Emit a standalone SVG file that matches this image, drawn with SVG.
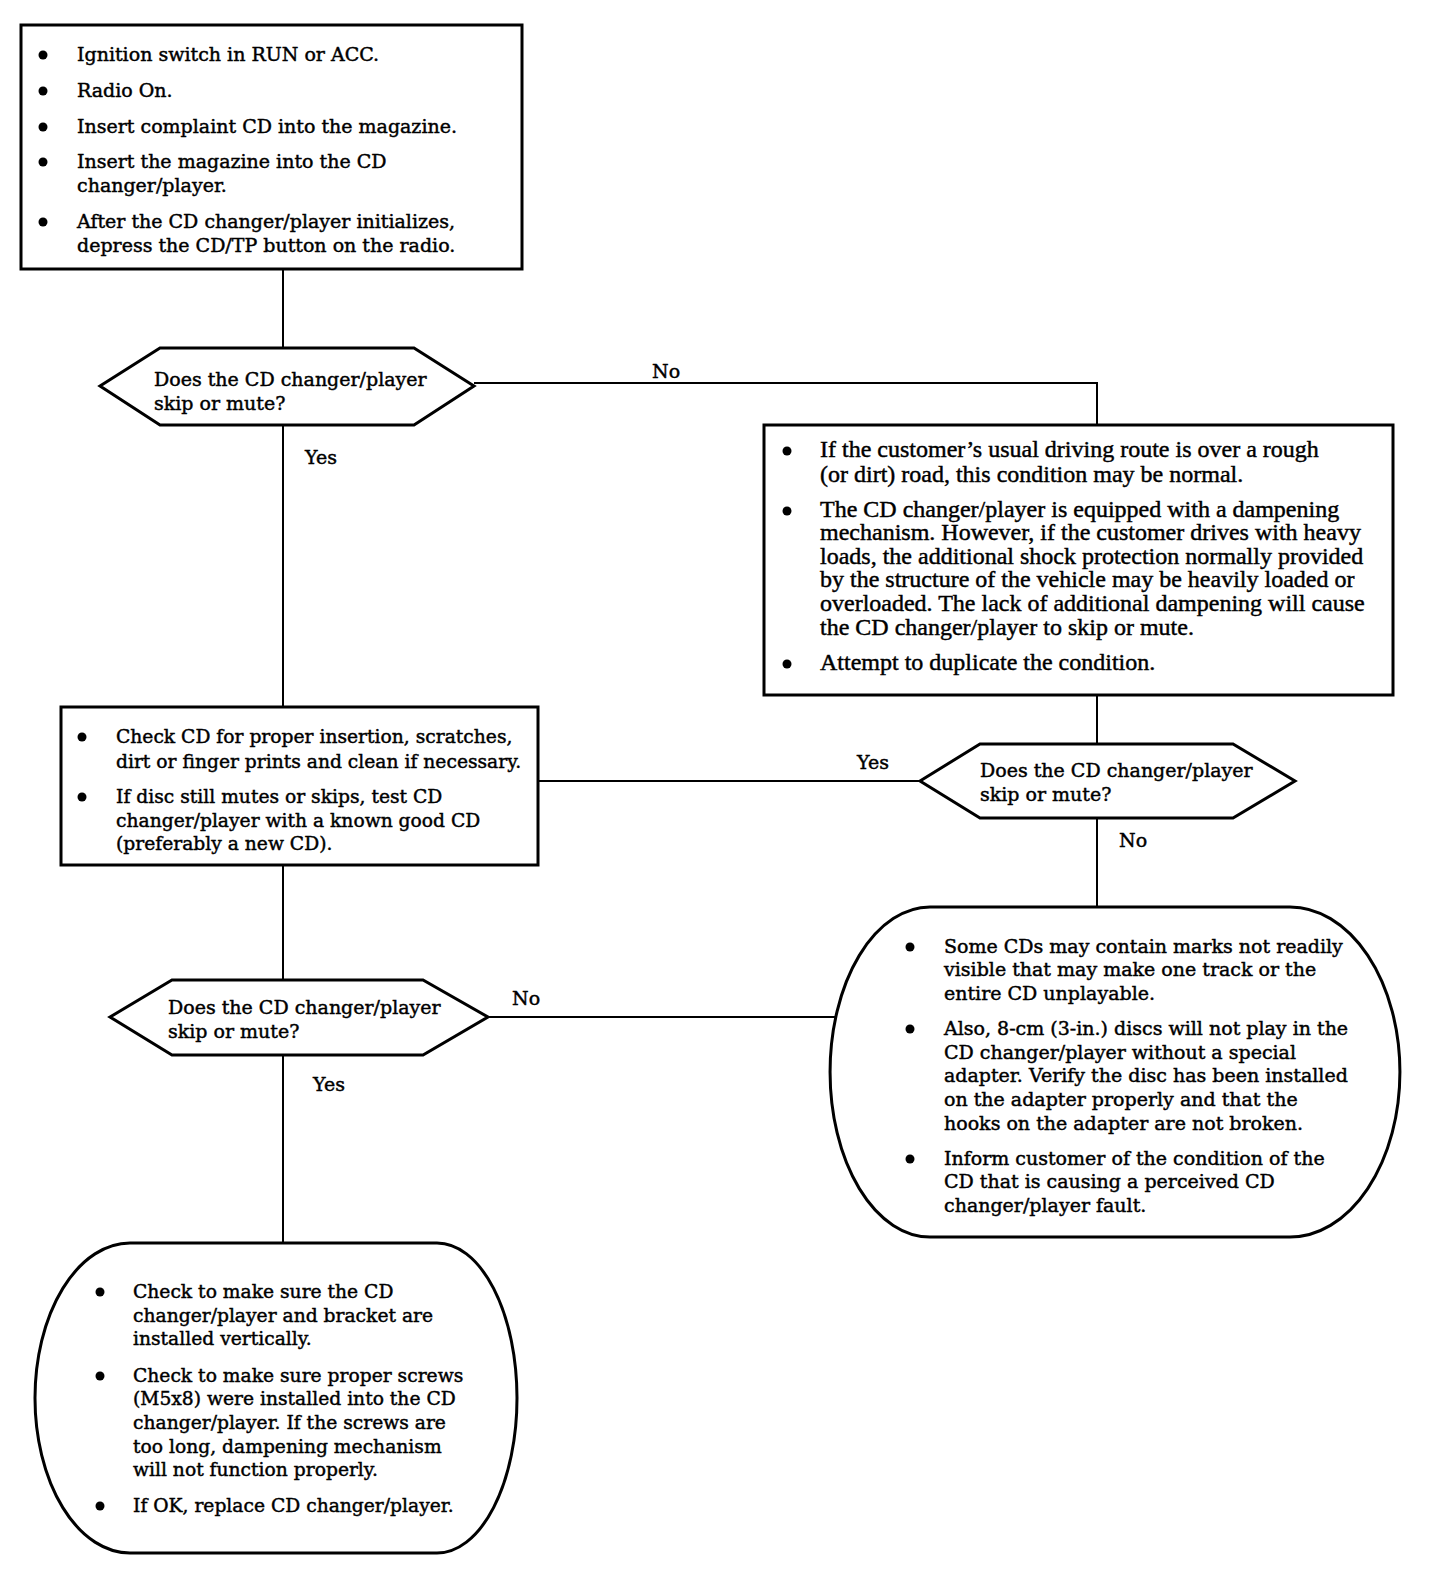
<svg xmlns="http://www.w3.org/2000/svg" width="1440" height="1580" viewBox="0 0 1440 1580">
<style>
.bg{fill:#fff}
.box{fill:#fff;stroke:#000;stroke-width:3}
.con{fill:none;stroke:#000;stroke-width:2}
.t{font-family:"DejaVu Serif","Liberation Serif",serif;font-size:19px;fill:#000;stroke:#000;stroke-width:0.45}
.s{font-size:18.7px}
.tt{font-family:"Liberation Serif","DejaVu Serif",serif;font-size:24px;fill:#000;stroke:#000;stroke-width:0.45}
.b{fill:#000}
</style>
<rect class="bg" x="0" y="0" width="1440" height="1580"/>
<g id="connectors">
<polyline class="con" points="283,269 283,348"/>
<polyline class="con" points="474,383 1097,383 1097,425"/>
<polyline class="con" points="283,425 283,707"/>
<polyline class="con" points="1097,695 1097,744"/>
<polyline class="con" points="538,781 920,781"/>
<polyline class="con" points="1097,818 1097,907"/>
<polyline class="con" points="283,865 283,980"/>
<polyline class="con" points="488,1017 836,1017"/>
<polyline class="con" points="283,1055 283,1243"/>
<text class="t" x="652" y="378">No</text>
<text class="t" x="305" y="464">Yes</text>
<text class="t" x="857" y="769">Yes</text>
<text class="t" x="1119" y="847">No</text>
<text class="t" x="512" y="1005">No</text>
<text class="t" x="313" y="1091">Yes</text>
</g>
<g id="start">
<rect class="box" x="21" y="25" width="501" height="244"/>
<circle class="b" cx="43" cy="55" r="4.5"/>
<circle class="b" cx="43" cy="91" r="4.5"/>
<circle class="b" cx="43" cy="127" r="4.5"/>
<circle class="b" cx="43" cy="162" r="4.5"/>
<circle class="b" cx="43" cy="222" r="4.5"/>
<text class="t" x="77" y="61">Ignition switch in RUN or ACC.</text>
<text class="t" x="77" y="97">Radio On.</text>
<text class="t" x="77" y="133">Insert complaint CD into the magazine.</text>
<text class="t" x="77" y="168">Insert the magazine into the CD</text>
<text class="t" x="77" y="192">changer/player.</text>
<text class="t" x="77" y="228">After the CD changer/player initializes,</text>
<text class="t" x="77" y="252">depress the CD/TP button on the radio.</text>
</g>
<g id="decision1">
<polygon class="box" points="100,386 160,348 414,348 474,386 414,425 160,425"/>
<text class="t" x="154" y="386">Does the CD changer/player</text>
<text class="t" x="154" y="410">skip or mute?</text>
</g>
<g id="rough-road">
<rect class="box" x="764" y="425" width="629" height="270"/>
<circle class="b" cx="787" cy="451" r="4.5"/>
<circle class="b" cx="787" cy="511" r="4.5"/>
<circle class="b" cx="787" cy="664" r="4.5"/>
<text class="tt" x="820" y="457">If the customer’s usual driving route is over a rough</text>
<text class="tt" x="820" y="482">(or dirt) road, this condition may be normal.</text>
<text class="tt" x="820" y="517">The CD changer/player is equipped with a dampening</text>
<text class="tt" x="820" y="540">mechanism. However, if the customer drives with heavy</text>
<text class="tt" x="820" y="564">loads, the additional shock protection normally provided</text>
<text class="tt" x="820" y="587">by the structure of the vehicle may be heavily loaded or</text>
<text class="tt" x="820" y="611">overloaded. The lack of additional dampening will cause</text>
<text class="tt" x="820" y="635">the CD changer/player to skip or mute.</text>
<text class="tt" x="820" y="670">Attempt to duplicate the condition.</text>
</g>
<g id="check-cd">
<rect class="box" x="61" y="707" width="477" height="158"/>
<circle class="b" cx="82" cy="737" r="4.5"/>
<circle class="b" cx="82" cy="797" r="4.5"/>
<text class="t s" x="116" y="743">Check CD for proper insertion, scratches,</text>
<text class="t s" x="116" y="768">dirt or finger prints and clean if necessary.</text>
<text class="t s" x="116" y="803">If disc still mutes or skips, test CD</text>
<text class="t s" x="116" y="827">changer/player with a known good CD</text>
<text class="t s" x="116" y="850">(preferably a new CD).</text>
</g>
<g id="decision2">
<polygon class="box" points="920,781 980,744 1233,744 1295,781 1233,818 980,818"/>
<text class="t" x="980" y="777">Does the CD changer/player</text>
<text class="t" x="980" y="801">skip or mute?</text>
</g>
<g id="decision3">
<polygon class="box" points="110,1017 172,980 423,980 488,1017 423,1055 172,1055"/>
<text class="t" x="168" y="1014">Does the CD changer/player</text>
<text class="t" x="168" y="1038">skip or mute?</text>
</g>
<g id="cd-marks">
<path class="box" d="M930,907 L1290,907 A110,165 0 0 1 1290,1237 L930,1237 A100,165 0 0 1 930,907 Z"/>
<circle class="b" cx="910" cy="947" r="4.5"/>
<circle class="b" cx="910" cy="1029" r="4.5"/>
<circle class="b" cx="910" cy="1159" r="4.5"/>
<text class="t" x="944" y="953">Some CDs may contain marks not readily</text>
<text class="t" x="944" y="976">visible that may make one track or the</text>
<text class="t" x="944" y="1000">entire CD unplayable.</text>
<text class="t" x="944" y="1035">Also, 8-cm (3-in.) discs will not play in the</text>
<text class="t" x="944" y="1059">CD changer/player without a special</text>
<text class="t" x="944" y="1082">adapter. Verify the disc has been installed</text>
<text class="t" x="944" y="1106">on the adapter properly and that the</text>
<text class="t" x="944" y="1130">hooks on the adapter are not broken.</text>
<text class="t" x="944" y="1165">Inform customer of the condition of the</text>
<text class="t" x="944" y="1188">CD that is causing a perceived CD</text>
<text class="t" x="944" y="1212">changer/player fault.</text>
</g>
<g id="mounting">
<path class="box" d="M130,1243 L437,1243 A80,155 0 0 1 437,1553 L130,1553 A95,155 0 0 1 130,1243 Z"/>
<circle class="b" cx="100" cy="1292" r="4.5"/>
<circle class="b" cx="100" cy="1376" r="4.5"/>
<circle class="b" cx="100" cy="1506" r="4.5"/>
<text class="t s" x="133" y="1298">Check to make sure the CD</text>
<text class="t s" x="133" y="1322">changer/player and bracket are</text>
<text class="t s" x="133" y="1345">installed vertically.</text>
<text class="t s" x="133" y="1382">Check to make sure proper screws</text>
<text class="t s" x="133" y="1405">(M5x8) were installed into the CD</text>
<text class="t s" x="133" y="1429">changer/player. If the screws are</text>
<text class="t s" x="133" y="1453">too long, dampening mechanism</text>
<text class="t s" x="133" y="1476">will not function properly.</text>
<text class="t s" x="133" y="1512">If OK, replace CD changer/player.</text>
</g>
</svg>
